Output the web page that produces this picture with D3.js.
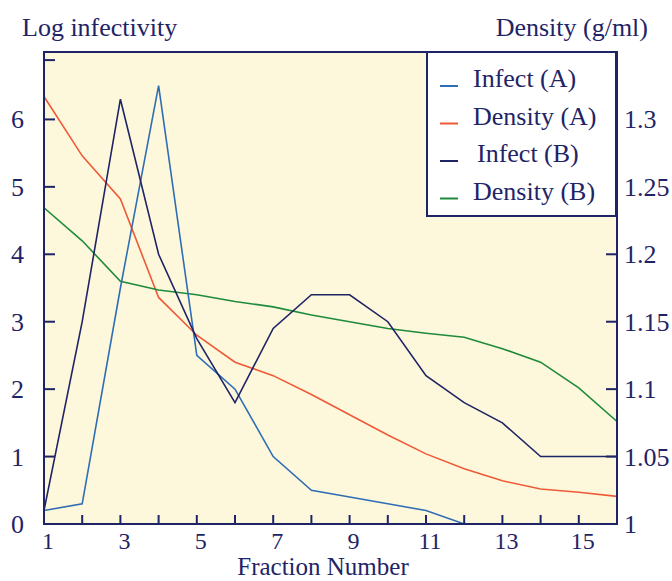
<!DOCTYPE html>
<html>
<head>
<meta charset="utf-8">
<script src="https://cdn.jsdelivr.net/npm/d3@7"></script>
<style>
body { margin: 0; background: #fff; }
text { font-family: "Liberation Serif", "DejaVu Serif", serif; fill: #1f2466; }
</style>
</head>
<body>
<div id="chart"></div>
<script>
// fraction numbers along the bottom
var fractions = [1,2,3,4,5,6,7,8,9,10,11,12,13,14,15,16];

// log infectivity (left axis)
var infectA = [0.2, 0.3, 3.5, 6.5, 2.5, 2.0, 1.0, 0.5, 0.4, 0.3, 0.2, 0, 0, 0, 0, 0];
var infectB = [0.2, 3.0, 6.3, 4.0, 2.75, 1.8, 2.9, 3.4, 3.4, 3.0, 2.2, 1.8, 1.5, 1.0, 1.0, 1.0];

// density g/ml (right axis)
var densityA = [1.317, 1.273, 1.241, 1.168, 1.140, 1.120, 1.110, 1.096, 1.081, 1.066, 1.052, 1.041, 1.032, 1.026, 1.0235, 1.0205];
var densityB = [1.2345, 1.210, 1.180, 1.1735, 1.170, 1.165, 1.161, 1.155, 1.150, 1.145, 1.1415, 1.1385, 1.130, 1.120, 1.101, 1.076];

var xTicks = [1,2,3,4,5,6,7,8,9,10,11,12,13,14,15,16];
var xLabels = [1,3,5,7,9,11,13,15];
var leftTicks = [0,1,2,3,4,5,6];
var rightTicks = [1, 1.05, 1.1, 1.15, 1.2, 1.25, 1.3];

var legendNames = ["Infect (A)", "Density (A)", "Infect (B)", "Density (B)"];
var colors = ["#2f6db5", "#ee5a38", "#1f2466", "#1e8a3a"];

var W = 672, H = 581;
var margin = {top: 52, right: 55, bottom: 57, left: 44};
var width = W - margin.left - margin.right,
    height = H - margin.top - margin.bottom;

var svg = d3.select("#chart").append("svg")
  .attr("width", W).attr("height", H);

var g = svg.append("g")
  .attr("transform", "translate(" + margin.left + "," + margin.top + ")");

var x = d3.scaleLinear().domain([1,16]).range([0, width]);
var yL = d3.scaleLinear().domain([0,7]).range([height, 0]);
var yR = d3.scaleLinear().domain([1,1.35]).range([height, 0]);

var navy = "#1f2466";

g.append("rect")
  .attr("width", width).attr("height", height)
  .attr("fill", "#fdf8dc");

// lines
var series = [
  {vals: infectA, y: yL},
  {vals: densityA, y: yR},
  {vals: infectB, y: yL},
  {vals: densityB, y: yR}
];
// draw density first so infect lines sit on top
var order = [1,3,0,2];
order.forEach(function(i){
  var s = series[i];
  var line = d3.line()
    .x(function(d, j){ return x(fractions[j]) })
    .y(function(d){ return s.y(d) });
  g.append("path")
    .datum(s.vals)
    .attr("fill", "none")
    .attr("stroke", colors[i])
    .attr("stroke-width", 1.6)
    .attr("d", line);
});

// frame
g.append("rect")
  .attr("width", width).attr("height", height)
  .attr("fill", "none")
  .attr("stroke", navy)
  .attr("stroke-width", 2);

// bottom ticks (pointing in)
g.selectAll(".xt").data(xTicks).enter().append("line")
  .attr("x1", function(d){ return x(d) }).attr("x2", function(d){ return x(d) })
  .attr("y1", height).attr("y2", height - 9)
  .attr("stroke", navy).attr("stroke-width", 2);

g.selectAll(".xl").data(xLabels).enter().append("text")
  .attr("x", function(d){ return x(d) + 4 })
  .attr("y", height + 25)
  .attr("text-anchor", "middle")
  .style("font-size", "24px")
  .text(function(d){ return d });

// left ticks
g.selectAll(".lt").data(leftTicks.concat([6.88])).enter().append("line")
  .attr("x1", 0).attr("x2", 11)
  .attr("y1", function(d){ return yL(d) }).attr("y2", function(d){ return yL(d) })
  .attr("stroke", navy).attr("stroke-width", 2);

g.selectAll(".ll").data(leftTicks).enter().append("text")
  .attr("x", -20)
  .attr("y", function(d){ return yL(d) + 9 })
  .attr("text-anchor", "end")
  .style("font-size", "26px")
  .text(function(d){ return d });

// right ticks
g.selectAll(".rt").data(rightTicks).enter().append("line")
  .attr("x1", width).attr("x2", width - 11)
  .attr("y1", function(d){ return yR(d) }).attr("y2", function(d){ return yR(d) })
  .attr("stroke", navy).attr("stroke-width", 2);

g.selectAll(".rl").data(rightTicks).enter().append("text")
  .attr("x", width + 7)
  .attr("y", function(d){ return yR(d) + 9 })
  .style("font-size", "26px")
  .text(function(d){ return d3.format("")(d) });

// axis titles
svg.append("text").attr("x", 22).attr("y", 36)
  .style("font-size", "26px").text("Log infectivity");
svg.append("text").attr("x", 648).attr("y", 36)
  .attr("text-anchor", "end")
  .style("font-size", "26px").text("Density (g/ml)");
svg.append("text").attr("x", 323).attr("y", 575)
  .attr("text-anchor", "middle")
  .style("font-size", "25px").text("Fraction Number");

// legend
var lg = svg.append("g").attr("transform", "translate(427,52)");
lg.append("rect")
  .attr("width", 189).attr("height", 164)
  .attr("fill", "#fff")
  .attr("stroke", navy).attr("stroke-width", 2);

var rows = lg.selectAll(".lr").data(legendNames).enter().append("g")
  .attr("transform", function(d, i){ return "translate(0," + (35 + i * 37.5) + ")" });
rows.append("line")
  .attr("x1", 13).attr("x2", 31)
  .attr("y1", -1).attr("y2", -1)
  .attr("stroke", function(d, i){ return colors[i] })
  .attr("stroke-width", 2);
rows.append("text")
  .attr("x", function(d, i){ return i == 2 ? 50 : 46 })
  .attr("y", 0)
  .style("font-size", "26px")
  .text(function(d){ return d });
</script>
</body>
</html>
